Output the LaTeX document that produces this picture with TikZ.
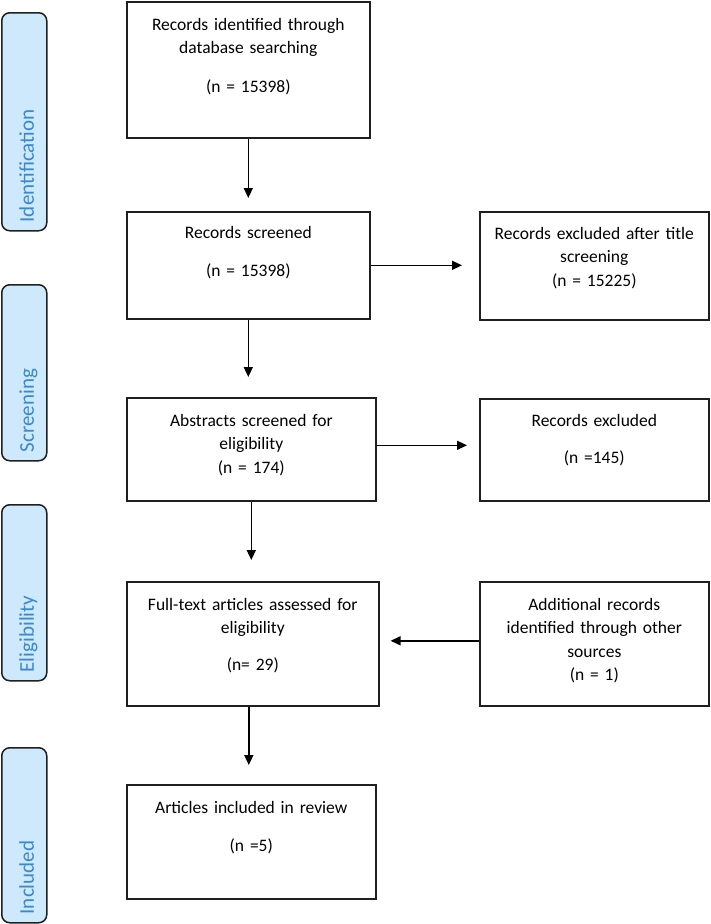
\documentclass[tikz,border=0pt]{standalone}
\usepackage{fontspec}
\setmainfont{Carlito}
\usetikzlibrary{arrows.meta}
\definecolor{sidefill}{HTML}{CDE9FB}
\definecolor{sidetext}{HTML}{3A88CE}
\begin{document}
\begin{tikzpicture}[x=1pt,y=-1pt,
  box/.style={draw=black!88, line width=1.6pt, rectangle, inner sep=0pt, anchor=north west},
  side/.style={draw=black!88, line width=1.5pt, fill=sidefill, rounded corners=8pt, rectangle, inner sep=0pt, anchor=north west, minimum width=45pt},
  txt/.style={anchor=base, inner sep=0pt, align=center, text width=#1, font=\fontsize{17.5}{23.5}\selectfont},
  txt/.default=230pt,
  sidelbl/.style={anchor=base west, rotate=90, inner sep=0pt, text=sidetext, font=\fontsize{21}{25}\selectfont},
  arr/.style={line width=1.5pt, -{Triangle[length=10pt,width=9pt]}}]
\useasboundingbox (0,0) rectangle (710,924);
% side labels
\node[side, minimum height=218pt] (s1) at (1,12) {};
\node[side, minimum height=176pt] (s2) at (1,284) {};
\node[side, minimum height=176pt] (s3) at (1,504) {};
\node[side, minimum height=175pt] (s4) at (1,747) {};
\node[sidelbl] (l1) at ([xshift=9.5pt,yshift=9pt]s1.south) {Identification};
\node[sidelbl] (l2) at ([xshift=9.5pt,yshift=9pt]s2.south) {Screening};
\node[sidelbl] (l3) at ([xshift=9.5pt,yshift=9pt]s3.south) {Eligibility};
\node[sidelbl] (l4) at ([xshift=9.5pt,yshift=9pt]s4.south) {Included};
% main boxes
\node[box, minimum width=243pt, minimum height=136pt] (b1) at (126,1) {};
\node[box, minimum width=243pt, minimum height=107pt] (b2) at (126,211) {};
\node[box, minimum width=249pt, minimum height=103pt] (b3) at (126,397) {};
\node[box, minimum width=252pt, minimum height=124pt] (b4) at (126,581) {};
\node[box, minimum width=249pt, minimum height=114pt] (b5) at (126,784) {};
\node[box, minimum width=229pt, minimum height=108pt] (r1) at (479,211) {};
\node[box, minimum width=229pt, minimum height=102pt] (r2) at (479,398) {};
\node[box, minimum width=229pt, minimum height=124pt] (r3) at (479,581) {};
% texts
\node[txt] (t1) at ([yshift=-29pt]b1.north) {Records identified through\\database searching\\[15pt](n = 15398)};
\node[txt] (t2) at ([yshift=-27pt]b2.north) {Records screened\\[15pt](n = 15398)};
\node[txt] (t3) at ([yshift=-29pt]b3.north) {Abstracts screened for\\eligibility\\(n = 174)};
\node[txt] (t4) at ([yshift=-29pt]b4.north) {Full-text articles assessed for\\eligibility\\[13pt](n= 29)};
\node[txt] (t5) at ([yshift=-29pt]b5.north) {Articles included in review\\[15pt](n =5)};
\node[txt] (u1) at ([yshift=-28pt]r1.north) {Records excluded after title\\screening\\(n = 15225)};
\node[txt] (u2) at ([yshift=-28pt]r2.north) {Records excluded\\[14pt](n =145)};
\node[txt] (u3) at ([yshift=-29pt]r3.north) {Additional records\\identified through other\\sources\\(n = 1)};
% arrows
\draw[arr, shorten >=13pt] (b1.south) -- (b1.south |- b2.north);
\draw[arr, shorten >=20pt] (b2.south) -- (b2.south |- b3.north);
\draw[arr, shorten >=21pt] (b3.south) -- (b3.south |- b4.north);
\draw[arr, shorten >=19pt] ([xshift=-4pt]b4.south) -- ([xshift=-4pt]b4.south |- b5.north);
\draw[arr, shorten >=17pt] (b2.east) -- (b2.east -| r1.west);
\draw[arr, shorten >=12pt] ([yshift=4pt]b3.east) -- ([yshift=4pt]b3.east -| r2.west);
\draw[arr, shorten >=11pt] ([yshift=3pt]r3.west) -- ([yshift=3pt]r3.west -| b4.east);
\end{tikzpicture}
\end{document}
